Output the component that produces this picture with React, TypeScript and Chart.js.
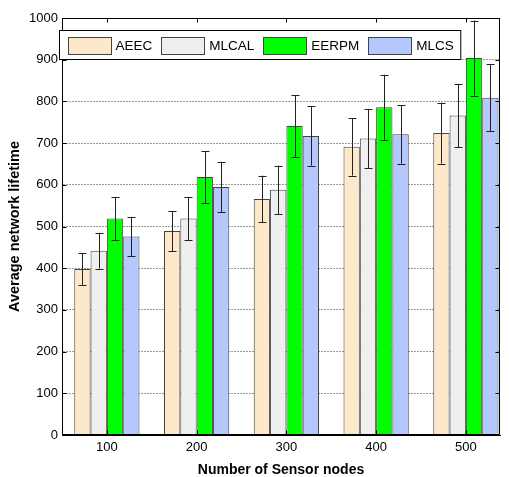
import React, { useEffect, useRef } from 'react';
import { Chart, registerables } from 'chart.js';

Chart.register(...registerables);

const nodes = [100, 200, 300, 400, 500];
const yTickValues = [0, 100, 200, 300, 400, 500, 600, 700, 800, 900, 1000];

const seriesNames = ['AEEC', 'MLCAL', 'EERPM', 'MLCS'];
const seriesColors = ['#FDE9C9', '#EFEFEF', '#00FF00', '#B4C8FE'];

const aeec = [398, 489, 566, 691, 724];
const aeecErr = [38, 48, 56, 69, 73];
const mlcal = [442, 519, 588, 711, 766];
const mlcalErr = [43, 52, 58, 71, 76];
const eerpm = [519, 619, 741, 786, 904];
const eerpmErr = [52, 62, 74, 78, 90];
const mlcs = [476, 595, 717, 721, 809];
const mlcsErr = [47, 60, 71, 70, 80];

const seriesValues = [aeec, mlcal, eerpm, mlcs];
const seriesErrors = [aeecErr, mlcalErr, eerpmErr, mlcsErr];

const FONT = "'Liberation Sans', Arial, sans-serif";

const errorBarPlugin = {
  id: 'errorBars',
  afterDatasetsDraw(chart: any) {
    const { ctx } = chart;
    const yScale = chart.scales.y;
    ctx.save();
    ctx.strokeStyle = '#222';
    ctx.lineWidth = 1;
    chart.data.datasets.forEach((ds: any, d: number) => {
      const meta = chart.getDatasetMeta(d);
      meta.data.forEach((bar: any, i: number) => {
        const v = seriesValues[d][i];
        const e = seriesErrors[d][i];
        const x = Math.round(bar.x) + 0.5;
        const yTop = yScale.getPixelForValue(v + e);
        const yBot = yScale.getPixelForValue(v - e);
        const cap = 4;
        ctx.beginPath();
        ctx.moveTo(x, yTop);
        ctx.lineTo(x, yBot);
        ctx.moveTo(x - cap, Math.round(yTop) + 0.5);
        ctx.lineTo(x + cap, Math.round(yTop) + 0.5);
        ctx.moveTo(x - cap, Math.round(yBot) + 0.5);
        ctx.lineTo(x + cap, Math.round(yBot) + 0.5);
        ctx.stroke();
      });
    });
    ctx.restore();
  },
};

const framePlugin = {
  id: 'frameAndLegend',
  afterDraw(chart: any) {
    const { ctx, chartArea: a } = chart;
    const xScale = chart.scales.x;
    const yScale = chart.scales.y;
    const L = Math.round(a.left) + 0.5;
    const R = Math.round(a.right) - 0.5;
    const T = Math.round(a.top) + 0.5;
    const B = Math.round(a.bottom) - 0.5;
    ctx.save();
    ctx.setLineDash([]);
    ctx.strokeStyle = '#000';
    ctx.lineWidth = 1;
    ctx.beginPath();
    ctx.moveTo(L, T);
    ctx.lineTo(R, T);
    ctx.lineTo(R, B);
    ctx.lineTo(L, B);
    ctx.closePath();
    ctx.stroke();
    const tl = 4;
    ctx.beginPath();
    yScale.ticks.forEach((t: any) => {
      const y = Math.round(yScale.getPixelForValue(t.value)) + 0.5;
      ctx.moveTo(L, y);
      ctx.lineTo(L + tl, y);
      ctx.moveTo(R, y);
      ctx.lineTo(R - tl, y);
    });
    xScale.ticks.forEach((t: any) => {
      const x = Math.round(xScale.getPixelForValue(t.value)) + 0.5;
      ctx.moveTo(x, T);
      ctx.lineTo(x, T + tl);
      ctx.moveTo(x, B);
      ctx.lineTo(x, B - tl);
    });
    ctx.stroke();

    // legend box
    const boxL = Math.round(a.left) - 3 + 0.5;
    const boxT = Math.round(a.top) + 12 + 0.5;
    const boxH = 29;
    ctx.font = `13.5px ${FONT}`;
    const padStart = 8;
    const swW = 43;
    const swH = 17;
    const gap1 = 5;
    const gap2 = 9;
    let total = padStart;
    seriesNames.forEach((n, i) => {
      total += swW + gap1 + ctx.measureText(n).width;
      total += i < seriesNames.length - 1 ? gap2 : 7;
    });
    ctx.fillStyle = '#fff';
    ctx.fillRect(boxL, boxT, total, boxH);
    ctx.strokeStyle = '#000';
    ctx.strokeRect(boxL, boxT, total, boxH);
    let x = boxL + padStart;
    ctx.textBaseline = 'middle';
    ctx.textAlign = 'left';
    seriesNames.forEach((n, i) => {
      const sy = boxT + (boxH - swH) / 2;
      ctx.fillStyle = seriesColors[i];
      ctx.fillRect(Math.round(x) + 0.5, Math.round(sy) + 0.5, swW, swH);
      ctx.strokeStyle = '#444';
      ctx.strokeRect(Math.round(x) + 0.5, Math.round(sy) + 0.5, swW, swH);
      x += swW + gap1;
      ctx.fillStyle = '#000';
      ctx.fillText(n, x, boxT + boxH / 2 + 1);
      x += ctx.measureText(n).width + gap2;
    });
    ctx.restore();
  },
};

export default function App() {
  const canvasRef = useRef<HTMLCanvasElement | null>(null);

  useEffect(() => {
    if (!canvasRef.current) return;
    const datasets = seriesNames.map((name, d) => ({
      label: name,
      data: nodes.map((n, i) => ({ x: n, y: seriesValues[d][i] })),
      backgroundColor: seriesColors[d],
      borderColor: '#444',
      borderWidth: 1,
      barPercentage: 1,
      categoryPercentage: 0.727,
    }));
    const chart = new Chart(canvasRef.current, {
      type: 'bar',
      data: { datasets },
      plugins: [errorBarPlugin, framePlugin],
      options: {
        animation: false,
        responsive: true,
        maintainAspectRatio: false,
        layout: { padding: { left: 0, top: 18, right: 9, bottom: 0 } },
        plugins: {
          legend: { display: false },
          tooltip: { enabled: false },
        },
        scales: {
          x: {
            type: 'linear',
            offset: false,
            min: 50,
            max: 538,
            grid: { display: false, drawTicks: false },
            border: { display: true, color: '#000' },
            afterBuildTicks: (axis: any) => {
              axis.ticks = nodes.map((v) => ({ value: v }));
            },
            afterFit: (axis: any) => {
              axis.height = 42;
            },
            ticks: {
              color: '#000',
              padding: 5,
              font: { family: FONT, size: 13 },
              callback: (v: any) => String(v),
            },
            title: {
              display: true,
              text: 'Number of Sensor nodes',
              color: '#000',
              font: { family: FONT, size: 14, weight: 'bold', lineHeight: 1.0 },
              padding: { top: 0, bottom: 0 },
            },
          },
          y: {
            type: 'linear',
            min: 0,
            max: 1000,
            afterBuildTicks: (axis: any) => {
              axis.ticks = yTickValues.map((v) => ({ value: v }));
            },
            afterFit: (axis: any) => {
              axis.width = 62;
            },
            grid: { display: true, color: '#9a9a9a', drawTicks: false, lineWidth: 1 },
            border: { display: true, color: '#000', dash: [2, 1] },
            ticks: {
              color: '#000',
              padding: 4,
              font: { family: FONT, size: 13 },
              callback: (v: any) => String(v),
            },
            title: {
              display: true,
              text: 'Average network lifetime',
              color: '#000',
              font: { family: FONT, size: 14.5, weight: 'bold' },
              padding: { top: 6, bottom: 0 },
            },
          },
        },
      } as any,
    });
    return () => chart.destroy();
  }, []);

  return (
    <div style={{ position: 'absolute', left: 0, top: 0, width: 509, height: 477 }}>
      <canvas ref={canvasRef} />
    </div>
  );
}
